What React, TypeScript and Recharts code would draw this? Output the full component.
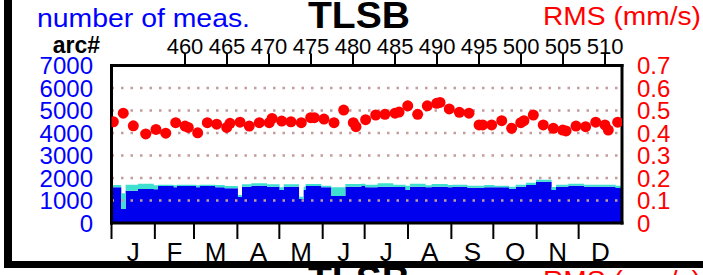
import React from 'react';
import { ComposedChart, Area, Scatter, XAxis, YAxis, ReferenceLine } from 'recharts';

const FONT = '"Liberation Sans", Arial, Helvetica, sans-serif';

// bar segments (day of year where each step starts)
const segStart = [0, 7.0, 10.1, 18.9, 30.2, 33.2, 44.5, 46.8, 60.6, 63.0, 74.2, 80.9, 90.4, 93.3, 100.0, 111.2, 120.2, 123.1, 134.1, 137.4, 138.8, 150.0, 157.2, 167.2, 178.6, 181.5, 190.3, 201.5, 210.3, 213.4, 224.6, 228.9, 240.4, 243.7, 254.4, 266.5, 273.7, 284.2, 289.0, 296.4, 303.5, 314.7, 317.8, 326.6, 337.8, 345.7, 360.5, 365];
const blueCounts = [1585, 622, 1437, 1511, 1496, 1644, 1585, 1644, 1585, 1644, 1585, 1541, 1170, 1615, 1659, 1615, 1467, 1615, 1067, 1467, 1644, 1585, 1200, 1615, 1644, 1585, 1615, 1600, 1467, 1615, 1585, 1615, 1585, 1615, 1570, 1585, 1585, 1526, 1615, 1689, 1837, 1467, 1615, 1659, 1615, 1615, 1556, 1556];
const turqCounts = [104, 697, 267, 237, 178, 60, 89, 60, 89, 60, 104, 103, 74, 104, 104, 104, 118, 104, 103, 148, 89, 74, 385, 118, 104, 119, 148, 104, 192, 133, 89, 118, 104, 89, 89, 104, 74, 89, 89, 104, 89, 133, 89, 89, 89, 89, 103, 103];

// RMS points
const rmsDays = [1.3, 8.4, 15.6, 24.5, 31.8, 38.8, 45.9, 52.6, 54.9, 61.6, 68.5, 75.2, 82.4, 84.7, 91.9, 98.5, 105.7, 112.8, 114.8, 121.7, 128.3, 135.7, 142.4, 145.0, 151.9, 159.1, 166.0, 172.9, 174.8, 181.7, 188.9, 195.5, 202.7, 205.6, 211.8, 218.9, 225.8, 232.5, 234.9, 241.5, 248.7, 255.6, 262.8, 265.4, 271.8, 279.0, 286.1, 292.6, 294.9, 301.6, 308.7, 315.9, 322.6, 325.0, 332.1, 339.0, 346.2, 352.8, 355.2, 361.9];
const rmsValues = [0.450, 0.488, 0.432, 0.396, 0.416, 0.399, 0.446, 0.431, 0.425, 0.401, 0.446, 0.439, 0.425, 0.443, 0.448, 0.431, 0.446, 0.446, 0.465, 0.453, 0.450, 0.446, 0.468, 0.468, 0.462, 0.446, 0.502, 0.446, 0.428, 0.459, 0.480, 0.483, 0.488, 0.493, 0.521, 0.483, 0.521, 0.532, 0.536, 0.507, 0.492, 0.488, 0.436, 0.436, 0.436, 0.455, 0.421, 0.446, 0.455, 0.480, 0.436, 0.421, 0.413, 0.409, 0.431, 0.428, 0.448, 0.436, 0.413, 0.448];

const countTicks = [0, 1000, 2000, 3000, 4000, 5000, 6000, 7000];
const gridLevels = [1000, 2000, 3000, 4000, 5000, 6000];
const rmsTicks = [0, 0.1, 0.2, 0.3, 0.4, 0.5, 0.6, 0.7];
const arcTicks = [460, 465, 470, 475, 480, 485, 490, 495, 500, 505, 510];
const arcDomain = [451.25, 512.02];
const monthStarts = [0, 31, 59, 90, 120, 151, 181, 212, 243, 273, 304, 334];
const monthMids = [15.5, 45, 74.5, 105, 135.5, 166, 196.5, 227.5, 258, 288.5, 319, 349.5];
const monthLabels = ['J', 'F', 'M', 'A', 'M', 'J', 'J', 'A', 'S', 'O', 'N', 'D'];

const barData = segStart.map((d, i) => ({ day: d, blue: blueCounts[i], turq: turqCounts[i] }));
const rmsData = rmsDays.map((d, i) => ({ day: d, rms: rmsValues[i] }));

const LeftTick = (p: any) => (
  <text x={p.x} y={p.y} dy={8.5} textAnchor="end" fill="#0000ff" fontSize={24} fontFamily={FONT}>
    {p.payload.value}
  </text>
);
const RightTick = (p: any) => (
  <text x={p.x} y={p.y} dy={8.5} textAnchor="start" fill="#ff0000" fontSize={24} fontFamily={FONT}>
    {p.payload.value === 0 ? '0' : String(p.payload.value)}
  </text>
);
const TopTick = (p: any) => (
  <text x={p.x} y={p.y} textAnchor="middle" fill="#000" fontSize={22} fontFamily={FONT}>
    {p.payload.value}
  </text>
);
const MonthTick = (p: any) => (
  <text x={p.x} y={p.y} dy={21.5} textAnchor="middle" fill="#000" fontSize={26} fontFamily={FONT}>
    {monthLabels[monthMids.indexOf(p.payload.value)]}
  </text>
);
const EmptyTick = () => <g />;
const RedDot = (p: any) => <circle cx={p.cx} cy={p.cy} r={5.5} fill="#ff0000" />;

const border = { stroke: '#000', strokeWidth: 3, strokeLinecap: 'square' as const };

export default function App() {
  return (
    <div style={{ position: 'absolute', left: 0, top: 0, width: 703, height: 275, overflow: 'hidden', background: '#fff' }}>
      <div style={{ position: 'absolute', left: 0, top: 0 }}>
        <ComposedChart width={703} height={275} data={barData} margin={{ top: 0, right: 0, bottom: 0, left: 0 }}>
          <XAxis
            xAxisId="arc"
            dataKey="day"
            orientation="top"
            type="number"
            domain={arcDomain}
            allowDataOverflow
            ticks={arcTicks}
            height={65.5}
            tickSize={12}
            tickMargin={0}
            tickLine={{ stroke: '#000', strokeWidth: 2 }}
            axisLine={border}
            tick={TopTick}
            interval={0}
          />
          <XAxis
            xAxisId="days"
            dataKey="day"
            orientation="bottom"
            type="number"
            domain={[0, 365]}
            allowDataOverflow
            ticks={monthStarts}
            height={16}
            tickSize={16}
            tickMargin={0}
            tickLine={{ stroke: '#000', strokeWidth: 2 }}
            axisLine={border}
            tick={EmptyTick}
            interval={0}
          />
          <XAxis
            xAxisId="months"
            dataKey="day"
            orientation="bottom"
            type="number"
            domain={[0, 365]}
            allowDataOverflow
            ticks={monthMids}
            height={36}
            tickSize={0}
            tickMargin={0}
            tickLine={false}
            axisLine={false}
            tick={MonthTick}
            interval={0}
          />
          <YAxis
            yAxisId="n"
            orientation="left"
            type="number"
            domain={[0, 7000]}
            allowDataOverflow
            ticks={countTicks}
            width={111.5}
            tickSize={0}
            tickMargin={18.5}
            tickLine={false}
            axisLine={border}
            tick={LeftTick}
            interval={0}
          />
          <YAxis
            yAxisId="rms"
            orientation="right"
            type="number"
            domain={[0, 0.7]}
            allowDataOverflow
            ticks={rmsTicks}
            width={81}
            tickSize={0}
            tickMargin={15}
            tickLine={false}
            axisLine={border}
            tick={RightTick}
            interval={0}
          />
          <Area xAxisId="days" yAxisId="n" type="stepAfter" dataKey="blue" stackId="a" stroke="none" fill="#0000ee" fillOpacity={1} isAnimationActive={false} dot={false} activeDot={false} />
          <Area xAxisId="days" yAxisId="n" type="stepAfter" dataKey="turq" stackId="a" stroke="none" fill="#40e0d0" fillOpacity={1} isAnimationActive={false} dot={false} activeDot={false} />
          {gridLevels.map((v) => (
            <ReferenceLine key={v} xAxisId="days" yAxisId="n" y={v} stroke="#c49c9c" strokeWidth={2.5} strokeDasharray="2.5 7" />
          ))}
          <Scatter xAxisId="days" yAxisId="rms" data={rmsData} dataKey="rms" shape={RedDot} isAnimationActive={false} />
        </ComposedChart>
      </div>
      <svg width={703} height={275} style={{ position: 'absolute', left: 0, top: 0, pointerEvents: 'none' }}>
        <text x={37} y={27} fill="#0000ff" fontSize={26} fontFamily={FONT} textLength={213} lengthAdjust="spacingAndGlyphs">number of meas.</text>
        <text x={308} y={28} fill="#000" fontSize={36} fontWeight="bold" fontFamily={FONT} textLength={102} lengthAdjust="spacingAndGlyphs">TLSB</text>
        <text x={543} y={25} fill="#ff0000" fontSize={26} fontFamily={FONT} textLength={158} lengthAdjust="spacingAndGlyphs">RMS (mm/s)</text>
        <text x={100} y={53} textAnchor="end" fill="#000" fontSize={23} fontWeight="bold" fontFamily={FONT}>arc#</text>
        <text x={308} y={292} fill="#000" fontSize={36} fontWeight="bold" fontFamily={FONT} textLength={102} lengthAdjust="spacingAndGlyphs">TLSB</text>
        <text x={543} y={289} fill="#ff0000" fontSize={26} fontFamily={FONT} textLength={158} lengthAdjust="spacingAndGlyphs">RMS (mm/s)</text>
        <rect x={4} y={0} width={8} height={268} fill="#000" />
        <rect x={4} y={261} width={699} height={7} fill="#000" />
      </svg>
    </div>
  );
}
